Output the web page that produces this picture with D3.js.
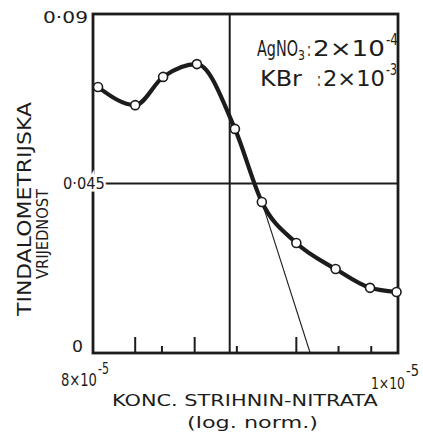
<!DOCTYPE html>
<html>
<head>
<meta charset="utf-8">
<script src="https://cdn.jsdelivr.net/npm/d3@7"></script>
<style>
  html, body { margin: 0; padding: 0; background: #fff; }
  svg { display: block; }
  text { font-family: "DejaVu Sans", sans-serif; fill: #1c1c1c; }
</style>
</head>
<body>
<svg id="chart" width="423" height="440"></svg>
<script>
// Strychnine nitrate concentration (log normality), left is high
const concentrations = [7.73e-5, 6e-5, 4.96e-5, 3.94e-5, 3.04e-5, 2.53e-5, 2.0e-5, 1.53e-5, 1.21e-5, 1.01e-5];
// Tyndallometric value
const tyndallValues = [0.0706, 0.0658, 0.0733, 0.0767, 0.0595, 0.0401, 0.0292, 0.0223, 0.0173, 0.0162];

const xDomain = [8e-5, 1e-5];
const yDomain = [0, 0.09];
const longTicks = [6e-5, 4e-5, 2e-5];
const shortTicks = [5e-5, 3e-5, 1.5e-5, 1.2e-5];
const yTickLabels = ["0·09", "0·045", "0"];
const gridX = [3.15e-5];
const gridY = [0.045];
// tangent drawn at the inflection point
const tangentX = [2.53e-5, 1.82e-5];
const tangentY = [0.0401, 0];

const CONFIG = {
  left: 93, right: 398, top: 14, bottom: 353,
  ink: "#1c1c1c",
  pointRadius: 4.5,
};

const svg = d3.select("#chart");

const x = d3.scaleLog().domain(xDomain).range([CONFIG.left, CONFIG.right]);
const y = d3.scaleLinear().domain(yDomain).range([CONFIG.bottom, CONFIG.top]);

/**
 * Put a piece of text at (x0, y0), stretched horizontally to width w.
 * The letter height stays the one given by the font size.
 */
function fitText(x0, y0, w, size, str, angle = 0) {
  const t = svg.append("text").attr("font-size", size).text(str);
  const natural = t.node().getComputedTextLength() || w;
  t.attr("transform", `translate(${x0},${y0}) rotate(${angle}) scale(${w / natural},1)`);
  return t;
}

// Grid lines
svg.selectAll(".grid-x")
  .data(gridX)
  .enter()
  .append("line")
  .attr("x1", d => x(d)).attr("x2", d => x(d))
  .attr("y1", y(0.09)).attr("y2", y(0))
  .attr("stroke", CONFIG.ink).attr("stroke-width", 2);

svg.selectAll(".grid-y")
  .data(gridY)
  .enter()
  .append("line")
  .attr("x1", x(8e-5)).attr("x2", x(1e-5))
  .attr("y1", d => y(d)).attr("y2", d => y(d))
  .attr("stroke", CONFIG.ink).attr("stroke-width", 2);

// Frame
svg.append("rect")
  .attr("x", x(8e-5)).attr("y", y(0.09))
  .attr("width", x(1e-5) - x(8e-5))
  .attr("height", y(0) - y(0.09))
  .attr("fill", "none")
  .attr("stroke", CONFIG.ink)
  .attr("stroke-width", 2.8);

// Ticks on the bottom axis
svg.selectAll(".tick-long")
  .data(longTicks)
  .enter()
  .append("line")
  .attr("x1", d => x(d)).attr("x2", d => x(d))
  .attr("y1", y(0)).attr("y2", y(0) - 16)
  .attr("stroke", CONFIG.ink).attr("stroke-width", 2);

svg.selectAll(".tick-short")
  .data(shortTicks)
  .enter()
  .append("line")
  .attr("x1", d => x(d)).attr("x2", d => x(d))
  .attr("y1", y(0)).attr("y2", y(0) - 7)
  .attr("stroke", CONFIG.ink).attr("stroke-width", 2);

// Tangent line
svg.append("line")
  .attr("x1", x(tangentX[0])).attr("y1", y(tangentY[0]))
  .attr("x2", x(tangentX[1])).attr("y2", y(tangentY[1]))
  .attr("stroke", CONFIG.ink).attr("stroke-width", 1.1);

// Curve
const points = concentrations.map((c, i) => [c, tyndallValues[i]]);
const line = d3.line()
  .x(d => x(d[0]))
  .y(d => y(d[1]))
  .curve(d3.curveMonotoneX);

svg.append("path")
  .datum(points)
  .attr("d", line)
  .attr("fill", "none")
  .attr("stroke", CONFIG.ink)
  .attr("stroke-width", 4.2)
  .attr("stroke-linejoin", "round");

svg.selectAll(".point")
  .data(points)
  .enter()
  .append("circle")
  .attr("cx", d => x(d[0]))
  .attr("cy", d => y(d[1]))
  .attr("r", CONFIG.pointRadius)
  .attr("fill", "#fff")
  .attr("stroke", CONFIG.ink)
  .attr("stroke-width", 1.6);

// Y labels (0.045 is lettered over the axis, so it gets a white halo)
fitText(43, 23, 45, 16, yTickLabels[0]);
fitText(63, 189, 42, 16, yTickLabels[1])
  .attr("stroke", "#fff").attr("stroke-width", 5).attr("paint-order", "stroke");
fitText(72, 352, 11, 16, yTickLabels[2]);

// X end labels
fitText(61, 386, 36, 17, "8×10");
fitText(98, 374, 11, 16, "-5");
fitText(371, 389, 34, 16, "1×10");
fitText(406, 376, 13, 16, "-5");

// Axis titles
fitText(112, 406, 266, 16, "KONC.  STRIHNIN-NITRATA");
fitText(187, 428, 131, 16, "(log. norm.)");
fitText(31, 316, 214, 20, "TINDALOMETRIJSKA", -90);
fitText(48, 279, 90, 16, "VRIJEDNOST", -90);

// Legend with reagent concentrations
fitText(257, 56, 41, 22, "AgNO");
fitText(298, 60, 7, 14, "3");
fitText(307, 56, 4, 20, ":");
fitText(313, 56, 72, 22, "2×10");
fitText(386, 45, 12, 15, "-4");

fitText(260, 86, 42, 22, "KBr");
fitText(317, 86, 4, 20, ":");
fitText(323, 86, 62, 22, "2×10");
fitText(386, 75, 11, 15, "-3");
</script>
</body>
</html>
